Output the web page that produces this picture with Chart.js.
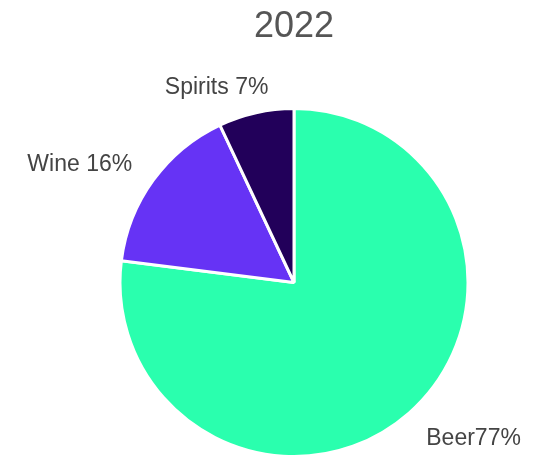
<!DOCTYPE html>
<html>
<head>
<meta charset="utf-8">
<script src="https://cdn.jsdelivr.net/npm/chart.js@4"></script>
<style>
  body { margin: 0; background: #fff; }
</style>
</head>
<body>
<canvas id="DrinksChart" width="544" height="458"></canvas>
<script>
var ChartTitle = '2022'
var NameCategory = ['Beer', 'Wine', 'Spirits']
var SharePercent = [77, 16, 7]
var LabelText = ['Beer77%', 'Wine 16%', 'Spirits 7%']
var ColorForCategory = ['#2affae', '#6633f5', '#22005a']

// draws the title and the labels outside each slice
var outsideLabels = {
    id: 'outsideLabels',
    afterDatasetsDraw: function (chart) {
        var ctx = chart.ctx
        var meta = chart.getDatasetMeta(0)
        ctx.save()
        ctx.fillStyle = '#555555'
        ctx.font = '36px "Liberation Sans", Arial, sans-serif'
        ctx.textAlign = 'center'
        ctx.textBaseline = 'middle'
        ctx.fillText(ChartTitle, 294, 27)

        ctx.fillStyle = '#444444'
        ctx.font = '23px "Liberation Sans", Arial, sans-serif'
        meta.data.forEach(function (arc, i) {
            var mid = (arc.startAngle + arc.endAngle) / 2
            var r = arc.outerRadius + 26
            var x = arc.x + Math.cos(mid) * r
            var y = arc.y + Math.sin(mid) * r
            if (Math.sin(mid) > 0) y += 6
            if (Math.cos(mid) >= 0) {
                ctx.textAlign = 'left'
            } else {
                ctx.textAlign = 'right'
                if (Math.abs(Math.cos(mid)) < 0.3) x += 18
            }
            ctx.fillText(LabelText[i], x, y)
        })
        ctx.restore()
    }
}

var config_Drinks = {
    type: 'pie',
    data: {
        labels: NameCategory,
        datasets: [{
            data: SharePercent,
            backgroundColor: ColorForCategory,
            borderColor: '#ffffff',
            borderWidth: 3,
        }],
    },
    plugins: [outsideLabels],
    options: {
        responsive: false,
        animation: false,
        layout: {
            padding: { top: 107, bottom: -2, left: 44, right: 0 }
        },
        plugins: {
            legend: { display: false },
            title: { display: false },
            tooltip: { enabled: false },
        },
    },
}

new Chart(document.getElementById('DrinksChart').getContext('2d'), config_Drinks)
</script>
</body>
</html>
